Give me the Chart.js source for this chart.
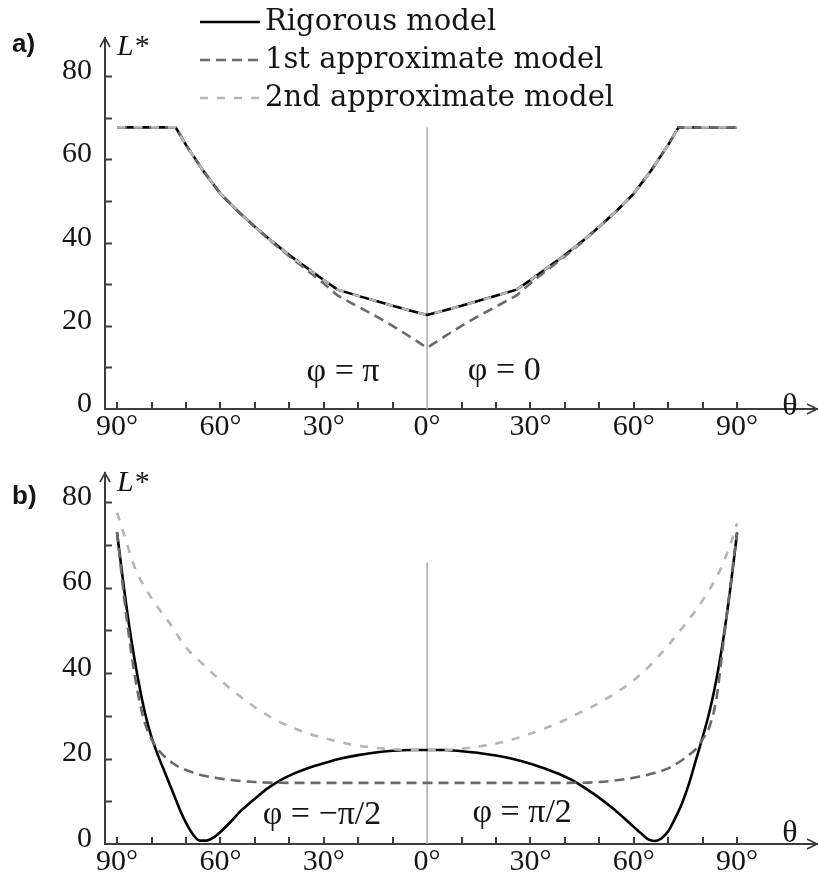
<!DOCTYPE html>
<html>
<head>
<meta charset="utf-8">
<script src="https://cdn.jsdelivr.net/npm/chart.js@4.4.1/dist/chart.umd.min.js"></script>
<style>
  html, body { margin: 0; padding: 0; background: #fff; }
  .panel { position: absolute; left: 0; width: 818px; }
  #boxA { top: 0; height: 450px; }
  #boxB { top: 437px; height: 438px; }
</style>
</head>
<body>
<div class="panel" id="boxA"><canvas id="chartA"></canvas></div>
<div class="panel" id="boxB"><canvas id="chartB"></canvas></div>
<script>
// tick values shared by both panels
const xTickValues = [-90, -80, -70, -60, -50, -40, -30, -20, -10, 0, 10, 20, 30, 40, 50, 60, 70, 80, 90];
const yTickValues = [0, 10, 20, 30, 40, 50, 60, 70, 80];

const seriesNames = ['Rigorous model', '1st approximate model', '2nd approximate model'];

// panel a)  phi = pi (left) / phi = 0 (right)
const thetaA = [-90, -85, -80, -75, -73, -70, -65, -60, -55, -50, -45, -40, -35, -30, -26, -20, -15, -10, -5,
  0, 5, 10, 15, 20, 26, 30, 35, 40, 45, 50, 55, 60, 65, 70, 73, 75, 80, 85, 90];
const rigorousA = [67.7, 67.7, 67.7, 67.7, 67.7, 63.5, 57.3, 51.8, 47.6, 43.8, 40.3, 37.0, 34.0, 31.0, 28.7, 27.2, 26.0, 24.8, 23.7,
  22.6, 23.7, 24.8, 26.0, 27.2, 28.7, 31.0, 34.0, 37.0, 40.3, 43.8, 47.6, 51.8, 57.3, 63.5, 67.7, 67.7, 67.7, 67.7, 67.7];
const approx1A = [67.7, 67.7, 67.7, 67.7, 67.7, 63.5, 57.3, 51.8, 47.6, 43.8, 40.1, 36.7, 33.5, 30.2, 27.3, 24.6, 22.4, 20.0, 17.4,
  14.7, 17.4, 20.0, 22.4, 24.6, 27.3, 30.2, 33.5, 36.7, 40.1, 43.8, 47.6, 51.8, 57.3, 63.5, 67.7, 67.7, 67.7, 67.7, 67.7];
const approx2A = [67.7, 67.7, 67.7, 67.7, 67.7, 63.5, 57.3, 51.8, 47.6, 43.8, 40.3, 37.0, 34.0, 31.0, 28.7, 27.2, 26.0, 24.8, 23.7,
  22.6, 23.7, 24.8, 26.0, 27.2, 28.7, 31.0, 34.0, 37.0, 40.3, 43.8, 47.6, 51.8, 57.3, 63.5, 67.7, 67.7, 67.7, 67.7, 67.7];
const zeroLineA = [0, 67.7];

// panel b)  phi = -pi/2 (left) / phi = pi/2 (right)
const thetaRigB = [-90, -88, -86, -84, -82, -80, -78, -76, -74, -72, -70, -68, -66, -64, -62, -60, -57, -54, -50, -46, -42, -38, -34, -30, -25, -20, -15, -10, -5,
  0, 5, 10, 15, 20, 25, 30, 34, 38, 42, 46, 50, 54, 57, 60, 62, 64, 66, 68, 70, 72, 74, 76, 78, 80, 82, 84, 86, 88, 90];
const rigorousB = [72.8, 60, 48.5, 39, 31, 25, 20.5, 16.5, 12.5, 8.5, 5, 2.3, 0.8, 0.8, 1.5, 2.8, 5.2, 7.8, 10.6, 13.2, 15.2, 16.7, 17.9, 18.9, 20.0, 20.8, 21.4, 21.8, 22.0,
  22.0, 22.0, 21.7, 21.3, 20.7, 19.9, 18.8, 17.7, 16.5, 15.0, 13.0, 10.8, 8.3, 6.2, 4.0, 2.6, 1.2, 0.7, 1.3, 3, 6, 9.5, 14, 19.5, 25, 31, 38.5, 48, 59.5, 72.8];

const thetaAp1B = [-90, -88, -86, -84, -82, -80, -78, -76, -74, -72, -70, -66, -60, -55, -50, -40, -30, -20, -10,
  0, 10, 20, 30, 40, 50, 55, 60, 66, 70, 72, 74, 76, 78, 80, 82, 84, 86, 88, 90];
const approx1B = [73, 58, 45.5, 35.5, 28.5, 24.5, 22, 20.3, 19, 18, 17.3, 16.2, 15.3, 14.8, 14.5, 14.3, 14.3, 14.3, 14.3,
  14.3, 14.3, 14.3, 14.3, 14.3, 14.5, 14.9, 15.5, 16.6, 17.7, 18.6, 19.6, 20.8, 22.2, 24.5, 27.5, 34, 47, 60, 73];

const thetaAp2B = [-90, -88, -85, -80, -75, -70, -65, -60, -55, -50, -45, -40, -35, -30, -25, -20, -15, -10, -5,
  0, 5, 10, 15, 20, 25, 30, 35, 40, 45, 50, 55, 60, 65, 70, 75, 80, 85, 88, 90];
const approx2B = [77.5, 72.5, 65, 57.5, 52, 46, 42, 38.3, 35, 32, 29.5, 27.5, 26, 24.8, 23.8, 23, 22.5, 22.2, 22.0,
  22.0, 22.0, 22.3, 22.8, 23.5, 24.5, 25.8, 27.3, 29, 31, 33, 35.5, 38.3, 42, 46.5, 51.5, 57, 64, 70, 75];
const zeroLineB = [0, 65.8];

// styling
const serif = 'Liberation Serif, Times New Roman, serif';
const axisColor = '#3c3c3c';
const textColor = '#151515';
const lineColors = ['#000000', '#6a6a6a', '#b5b5b5'];
const lineDashes = [[], [10, 6], [8, 9]];

const pts = (xs, ys) => xs.map((t, i) => ({ x: t, y: ys[i] }));

function seriesSet(list, smooth) {
  return list.map((s, i) => ({
    label: seriesNames[i],
    data: pts(s[0], s[1]),
    borderColor: lineColors[i],
    borderDash: lineDashes[i],
    borderWidth: 2.6,
    pointRadius: 0,
    fill: false,
    tension: smooth ? 0.4 : 0,
    cubicInterpolationMode: smooth ? 'monotone' : 'default',
    order: 3 - i
  }));
}

const decor = {
  id: 'decor',
  afterDraw(chart, args, o) {
    const { ctx, chartArea: a, scales: { x, y } } = chart;
    ctx.save();
    ctx.strokeStyle = axisColor;
    ctx.lineWidth = 2;
    ctx.setLineDash([]);
    ctx.beginPath();
    yTickValues.forEach(v => {
      if (v === 0) return;
      const py = Math.round(y.getPixelForValue(v)) + 0.5;
      ctx.moveTo(a.left, py); ctx.lineTo(a.left + 7, py);
    });
    xTickValues.forEach(v => {
      if (v === 0) return;
      const px = Math.round(x.getPixelForValue(v));
      ctx.moveTo(px, a.bottom); ctx.lineTo(px, a.bottom - 7);
    });
    ctx.stroke();
    // arrow heads
    ctx.lineWidth = 1.6;
    ctx.beginPath();
    ctx.moveTo(a.left - 5, a.top + 9); ctx.lineTo(a.left, a.top); ctx.lineTo(a.left + 5, a.top + 9);
    ctx.moveTo(a.right - 10, a.bottom - 5); ctx.lineTo(a.right, a.bottom); ctx.lineTo(a.right - 10, a.bottom + 5);
    ctx.stroke();

    ctx.fillStyle = textColor;
    ctx.textBaseline = 'alphabetic';
    ctx.textAlign = 'left';
    // L* axis title
    ctx.font = 'italic 30px ' + serif;
    ctx.fillText('L', a.left + 12, a.top + o.lDy);
    const lw = ctx.measureText('L').width;
    ctx.font = '30px ' + serif;
    ctx.fillText('*', a.left + 12 + lw + 1, a.top + o.lDy);
    // theta
    ctx.textAlign = 'center';
    ctx.textBaseline = 'middle';
    ctx.font = '32px ' + serif;
    ctx.fillText('θ', 790, a.bottom + o.thetaDy);
    // panel label
    ctx.textAlign = 'left';
    ctx.textBaseline = 'alphabetic';
    ctx.font = 'bold 26px "Liberation Sans Narrow", "Liberation Sans", sans-serif';
    ctx.fillText(o.panel, 12, o.panelY);
    // phi notes
    ctx.textAlign = 'center';
    ctx.textBaseline = 'middle';
    ctx.font = '34px ' + serif;
    o.notes.forEach(n => ctx.fillText(n.text, x.getPixelForValue(n.x), y.getPixelForValue(n.y)));
    // legend
    if (o.legend) {
      const L = o.legend;
      chart.data.datasets.filter(d => d.label).forEach((d, i) => {
        const yy = L.rows[i];
        ctx.strokeStyle = d.borderColor;
        ctx.lineWidth = d.borderWidth;
        ctx.setLineDash(d.borderDash);
        ctx.beginPath();
        ctx.moveTo(L.x0, yy); ctx.lineTo(L.x1, yy);
        ctx.stroke();
        ctx.setLineDash([]);
        ctx.fillStyle = textColor;
        ctx.textAlign = 'left';
        ctx.font = '29px "DejaVu Serif", serif';
        ctx.fillText(d.label, L.tx, yy);
      });
    }
    ctx.restore();
  }
};

function buildChart(id, datasets, o) {
  return new Chart(document.getElementById(id), {
    type: 'line',
    data: { datasets: datasets },
    options: {
      responsive: true,
      maintainAspectRatio: false,
      animation: false,
      events: [],
      layout: { padding: { top: o.top, right: 1, left: 0, bottom: 0 } },
      plugins: { legend: { display: false }, tooltip: { enabled: false }, decor: o.decor },
      scales: {
        x: {
          type: 'linear', min: -93.5, max: 113.2,
          afterFit: s => { s.height = o.xHeight; },
          afterBuildTicks: s => { s.ticks = xTickValues.map(v => ({ value: v })); },
          grid: { display: false, drawTicks: false },
          border: { display: true, color: axisColor, width: 2 },
          ticks: {
            autoSkip: false, maxRotation: 0, padding: 0, color: textColor,
            font: { family: serif, size: 30 },
            callback: v => (v % 30 === 0 ? Math.abs(v) + '°' : '')
          }
        },
        y: {
          type: 'linear', min: 0, max: o.yMax,
          afterFit: s => { s.width = 105; },
          afterBuildTicks: s => { s.ticks = yTickValues.map(v => ({ value: v })); },
          grid: { display: false, drawTicks: false },
          border: { display: true, color: axisColor, width: 2 },
          ticks: {
            padding: 13, labelOffset: -5, color: textColor,
            font: { family: serif, size: 30 },
            callback: v => (v % 20 === 0 ? String(v) : '')
          }
        }
      }
    },
    plugins: [decor]
  });
}

function zeroLine(vals) {
  return {
    data: pts([0, 0], vals), borderColor: '#a8a8a8', borderWidth: 1.5,
    pointRadius: 0, fill: false, order: 5
  };
}

buildChart('chartA',
  seriesSet([[thetaA, rigorousA], [thetaA, approx1A], [thetaA, approx2A]], false).concat([zeroLine(zeroLineA)]),
  {
    top: 38, xHeight: 41, yMax: 89.2,
    decor: {
      panel: 'a)', panelY: 52, lDy: 17, thetaDy: -2,
      notes: [{ text: 'φ = π', x: -24.4, y: 8.8 }, { text: 'φ = 0', x: 22.4, y: 9.0 }],
      legend: { x0: 200, x1: 260, tx: 265, rows: [22, 60, 98] }
    }
  });

buildChart('chartB',
  seriesSet([[thetaRigB, rigorousB], [thetaAp1B, approx1B], [thetaAp2B, approx2B]], true).concat([zeroLine(zeroLineB)]),
  {
    top: 36, xHeight: 31, yMax: 86.8,
    decor: {
      panel: 'b)', panelY: 67, lDy: 18, thetaDy: -10,
      notes: [{ text: 'φ = −π/2', x: -30.5, y: 6.8 }, { text: 'φ = π/2', x: 27.6, y: 7.2 }]
    }
  });
</script>
</body>
</html>
